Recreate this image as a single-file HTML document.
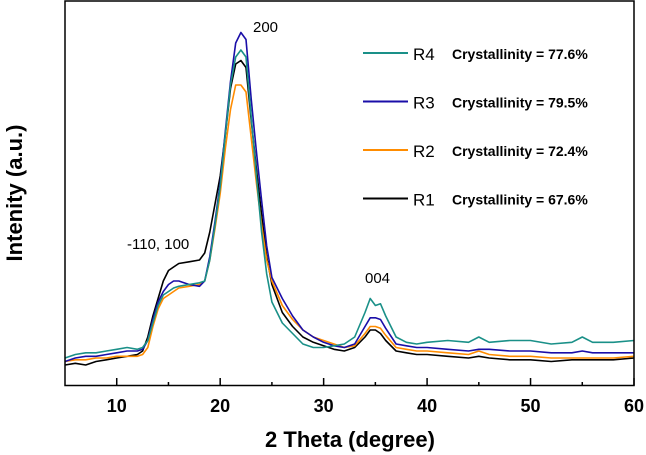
<!DOCTYPE html>
<html><head><meta charset="utf-8"><style>
body{margin:0;background:#fff;}
svg{display:block;font-family:"Liberation Sans",Arial,sans-serif;}
</style></head><body>
<svg id="chart" width="646" height="455">
<g id="plot"></g>
<rect x="65" y="1" width="569" height="384.5" fill="none" stroke="#000" stroke-width="1.5"/>
<g id="axes"></g>
<text x="22" y="193" transform="rotate(-90 22 193)" text-anchor="middle" font-size="22" font-weight="bold">Intenity (a.u.)</text>
<text x="350" y="447" text-anchor="middle" font-size="22" font-weight="bold">2 Theta (degree)</text>
<text x="253" y="32" font-size="15">200</text>
<text x="127" y="249" font-size="15">-110, 100</text>
<text x="365" y="283" font-size="15">004</text>
<g id="legend"></g>
</svg>
<script>
const xs=[5,6,7,8,9,10,11,12,12.5,13,13.5,14,14.5,15,15.5,16,17,18,18.5,19,19.5,20,20.5,21,21.5,22,22.5,23,23.5,24,24.5,25,26,27,28,29,30,31,32,33,34,34.5,35,35.5,36,37,38,39,40,42,44,45,46,48,50,52,54,55,56,58,60];
const r1=[6,6.5,6,7,7.5,8,8.5,9,10,14,20,25,30,33,34,35,35.5,36,38,44,52,60,72,85,92,93,91,76,62,49,37,29,21,17,14,12.5,11.5,10.5,10,11,14,16,16,15,13,10,9.5,9,9,8.5,8,8.5,8,7.5,7.5,7,7.5,7.5,7.5,7.5,8];
const r2=[7,7.5,7.5,8,8,8.5,8.5,8.5,9,11,17,22,25,26,27,28,28.5,29,30,36,45,55,68,79,86,86,84,71,58,46,36,30,23,19,16,14,13,12,11,11.5,15,17,17,16.5,14.5,11,10.5,10,10,9.5,9,10,9,8.5,8.5,8,8,8,8,8,8.5];
const r3=[7,8,8.5,8.5,9,9.5,10,10,10.5,13,19,24,27,29,30,30,29,28.5,30,37,47,58,73,87,98,101,99,82,67,53,40,31,25,20,16,14,12.5,11.5,11,12,17,19.5,19.5,19,16.5,12,11.5,11,11,10.5,10,10.5,10.5,10,10,9.5,9.5,10,9.5,9.5,9.5];
const r4=[8,9,9.5,9.5,10,10.5,11,10.5,11,13,18,23,26,27,28,28.5,29,29.5,30,36,46,57,72,86,94,96,94,77,60,44,32,24,18,15,12,11,11,11.5,12,14,21,25,23,23.5,20,14,12.5,12,12.5,13,12.5,14,12.5,13,13,12,12.5,14,12.5,12.5,13];
const seriesNames=["R1","R2","R3","R4"];
const crystallinity=["67.6%","72.4%","79.5%","77.6%"];
const xTicks=[10,20,30,40,50,60];
const xMinor=[15,25,35,45,55];
const colors={R1:"#000000",R2:"#ff8c00",R3:"#1a0ea8",R4:"#1a9088"};
const X=v=>65+(v-5)*(634-65)/55;
const Y=v=>386-v*3.5;
const NS="http://www.w3.org/2000/svg";
const plot=document.getElementById('plot'),axes=document.getElementById('axes'),leg=document.getElementById('legend');
const data={R1:r1,R2:r2,R3:r3,R4:r4};
seriesNames.forEach(n=>{
 const p=document.createElementNS(NS,'path');
 p.setAttribute('d',xs.map((x,i)=>(i?'L':'M')+X(x).toFixed(1)+' '+Y(data[n][i]).toFixed(1)).join(' '));
 p.setAttribute('fill','none');p.setAttribute('stroke',colors[n]);p.setAttribute('stroke-width','1.6');p.setAttribute('stroke-linejoin','round');
 
 
 plot.appendChild(p);
});
xTicks.forEach(t=>{
 const l=document.createElementNS(NS,'line');
 l.setAttribute('x1',X(t));l.setAttribute('x2',X(t));l.setAttribute('y1',385.5);l.setAttribute('y2',378);l.setAttribute('stroke','#000');l.setAttribute('stroke-width','1.5');
 
 
 axes.appendChild(l);
 const tx=document.createElementNS(NS,'text');
 tx.setAttribute('x',X(t));tx.setAttribute('y',412);tx.setAttribute('text-anchor','middle');tx.setAttribute('font-size','18');tx.setAttribute('font-weight','bold');
 tx.textContent=t;
 
 
 axes.appendChild(tx);
});
xMinor.forEach(t=>{
 const l=document.createElementNS(NS,'line');
 l.setAttribute('x1',X(t));l.setAttribute('x2',X(t));l.setAttribute('y1',385.5);l.setAttribute('y2',382);l.setAttribute('stroke','#000');l.setAttribute('stroke-width','1.5');
 
 
 axes.appendChild(l);
});
const order=[3,2,1,0];
order.forEach((si,k)=>{
 const n=seriesNames[si],y=53+k*48.5;
 const l=document.createElementNS(NS,'line');
 l.setAttribute('x1',363);l.setAttribute('x2',408);l.setAttribute('y1',y);l.setAttribute('y2',y);l.setAttribute('stroke',colors[n]);l.setAttribute('stroke-width','2');
 
 
 leg.appendChild(l);
 const t=document.createElementNS(NS,'text');
 t.setAttribute('x',413);t.setAttribute('y',y+7);t.setAttribute('font-size','17');t.textContent=n;
 
 
 leg.appendChild(t);
 const c=document.createElementNS(NS,'text');
 c.setAttribute('x',452);c.setAttribute('y',y+6);c.setAttribute('font-size','14');c.setAttribute('font-weight','bold');
 c.textContent='Crystallinity = '+crystallinity[si];
 
 
 leg.appendChild(c);
});
</script>
</body></html>
